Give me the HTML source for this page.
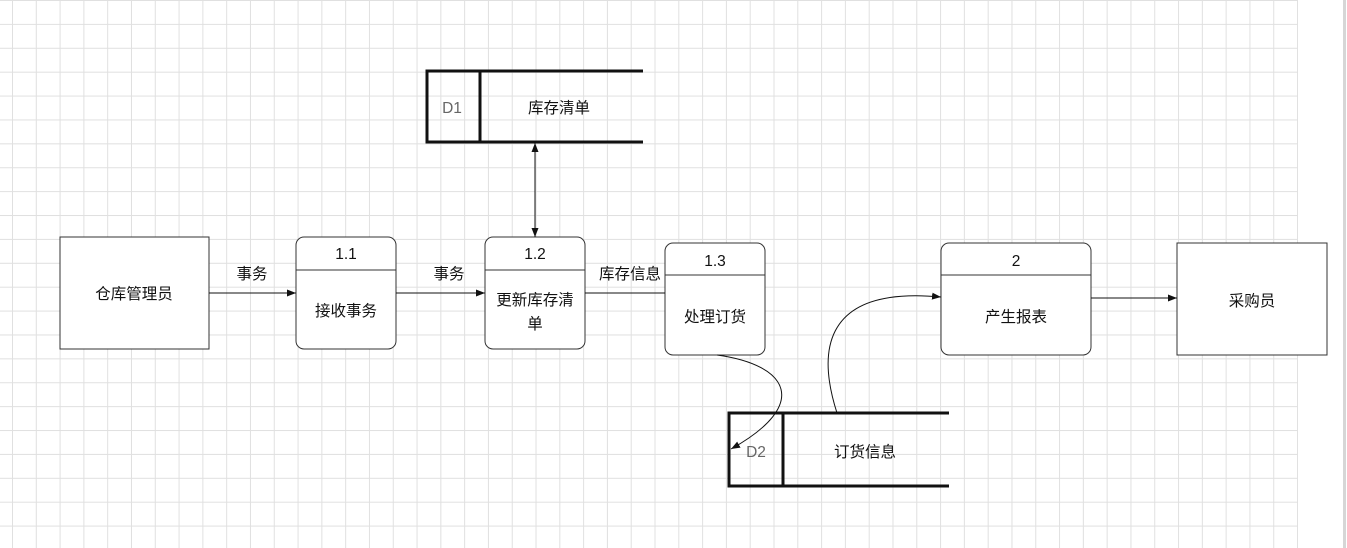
<!DOCTYPE html>
<html><head><meta charset="utf-8"><style>
html,body{margin:0;padding:0;background:#fff;}
.wrap{position:relative;width:1347px;height:548px;overflow:hidden;}
.grid{position:absolute;left:0;top:0;width:1298px;height:548px;
background-image:linear-gradient(to right,#e0e0e0 1px,transparent 1px),linear-gradient(to bottom,#e0e0e0 1px,transparent 1px);
background-size:23.8px 23.9px;background-position:12px 0;}
.bar{position:absolute;left:1343px;top:0;width:3px;height:548px;background:#d6d6d6;}
svg{position:absolute;left:0;top:0;}
text{font-family:"Liberation Sans","Noto Sans CJK SC",sans-serif;font-size:15.5px;fill:#111;}
</style></head><body><div class="wrap"><div class="grid"></div><div class="bar"></div>
<svg width="1347" height="548" viewBox="0 0 1347 548">
<defs><marker id="a" markerWidth="10" markerHeight="10" refX="9" refY="5" orient="auto" markerUnits="userSpaceOnUse"><path d="M0,1.5 L9,5 L0,8.5 Z" fill="#111"/></marker>
<marker id="s" markerWidth="10" markerHeight="10" refX="1" refY="5" orient="auto" markerUnits="userSpaceOnUse"><path d="M10,1.5 L1,5 L10,8.5 Z" fill="#111"/></marker></defs>
<g fill="#fff" stroke="#333" stroke-width="1">
<rect x="60" y="237" width="149" height="112"/>
<rect x="296" y="237" width="100" height="112" rx="8"/>
<rect x="485" y="237" width="100" height="112" rx="8"/>
<rect x="665" y="243" width="100" height="112" rx="8"/>
<rect x="941" y="243" width="150" height="112" rx="8"/>
<rect x="1177" y="243" width="150" height="112"/>
<line x1="296" y1="270" x2="396" y2="270"/>
<line x1="485" y1="270" x2="585" y2="270"/>
<line x1="665" y1="275" x2="765" y2="275"/>
<line x1="941" y1="275" x2="1091" y2="275"/>
</g>
<g stroke="#111" stroke-width="3" fill="none">
<path d="M643,71 H427 V142 H643"/><line x1="480" y1="71" x2="480" y2="142"/>
<path d="M949,413 H729 V486 H949"/><line x1="783" y1="413" x2="783" y2="486"/>
</g>
<g stroke="#111" stroke-width="1" fill="none">
<line x1="209" y1="293" x2="296" y2="293" marker-end="url(#a)"/>
<line x1="396" y1="293" x2="485" y2="293" marker-end="url(#a)"/>
<line x1="585" y1="293" x2="665" y2="293"/>
<line x1="535" y1="143" x2="535" y2="237" marker-start="url(#s)" marker-end="url(#a)"/>
<line x1="1091" y1="298" x2="1177" y2="298" marker-end="url(#a)"/>
<path d="M717,355 C790,365 810,405 731,449" marker-end="url(#a)"/>
<path d="M837,413 C820,360 815,285 941,297" marker-end="url(#a)"/>
</g>
<g text-anchor="middle">
<text x="134" y="299">仓库管理员</text>
<text x="346" y="259">1.1</text><text x="346" y="316">接收事务</text>
<text x="535" y="259">1.2</text><text x="535" y="305">更新库存清</text><text x="535" y="329">单</text>
<text x="715" y="266">1.3</text><text x="715" y="322">处理订货</text>
<text x="1016" y="266">2</text><text x="1016" y="322">产生报表</text>
<text x="1252" y="306">采购员</text>
<text x="452" y="113" style="fill:#666">D1</text><text x="559" y="113">库存清单</text>
<text x="756" y="457" style="fill:#666">D2</text><text x="865" y="457">订货信息</text>
<text x="252" y="279">事务</text><text x="449" y="279">事务</text><text x="630" y="279">库存信息</text>
</g>
</svg></div></body></html>
